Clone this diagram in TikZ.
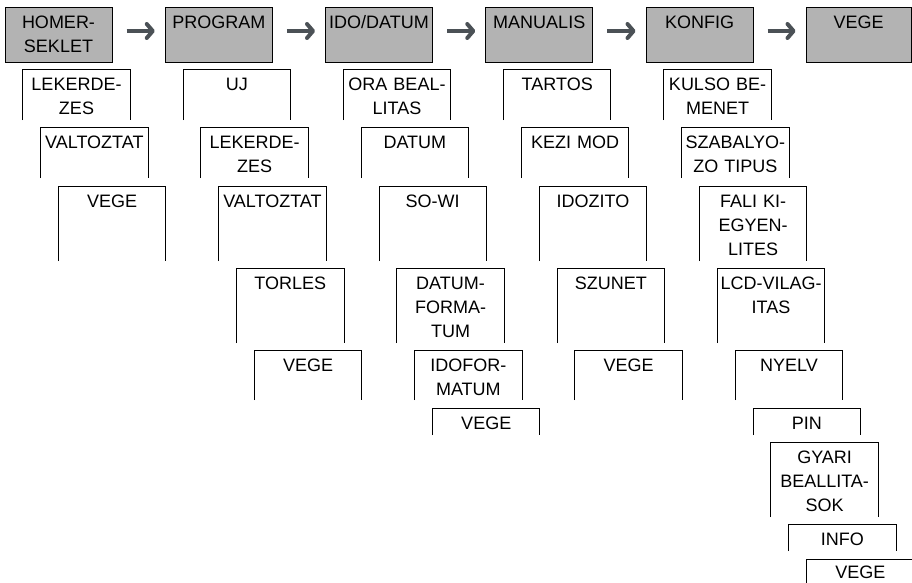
\documentclass[tikz,border=0pt]{standalone}
\usepackage{fontspec}
\setmainfont{Liberation Sans}
\usetikzlibrary{arrows.meta}
\definecolor{menugray}{HTML}{B3B3B3}
\definecolor{arrowgray}{HTML}{4B5156}
\tikzset{
  menu/.style={draw, line width=1pt, fill=menugray, anchor=north, text width=107pt, align=center,
    inner xsep=0pt, inner ysep=8pt, text height=13pt, text depth=26pt, font=\fontsize{18}{24}\selectfont},
  sub/.style={anchor=north, text width=107pt, align=center, inner xsep=0pt, inner ysep=8.5pt,
    text height=13pt, font=\fontsize{18}{24}\selectfont},
  nextarrow/.style={line width=4pt, arrowgray, -{Straight Barb[round,length=6pt,width=14pt]},
    shorten <=14pt, shorten >=10pt}
}
% open box: top and both sides, down to the row bottom
\newcommand\frameopen[2]{\draw[line width=1pt] (#1.north west |- #2) |- (#1.north east) -- (#1.north east |- #2);}
\begin{document}
\begin{tikzpicture}[x=1pt,y=-1pt]
\useasboundingbox (0,0) rectangle (912,582);
% row bottoms
\coordinate (bot1) at (0,120); \coordinate (bot2) at (0,178);
\coordinate (bot3) at (0,261); \coordinate (bot4) at (0,343);
\coordinate (bot5) at (0,400); \coordinate (bot6) at (0,435);
\coordinate (bot7) at (0,517); \coordinate (bot8) at (0,551);
\coordinate (bot9) at (0,590);

% main menu
\node[menu] (homer) at (58.5,7) {HOMER-\\SEKLET};
\node[menu] (program) at (218.75,7) {PROGRAM};
\node[menu] (idodatum) at (379,7) {IDO/DATUM};
\node[menu] (manualis) at (539.25,7) {MANUALIS};
\node[menu] (konfig) at (699.5,7) {KONFIG};
\node[menu, text width=105pt] (vege) at (858.5,7) {VEGE};

\draw[nextarrow] ([yshift=4pt]homer.east) -- ([yshift=4pt]program.west);
\draw[nextarrow] ([yshift=4pt]program.east) -- ([yshift=4pt]idodatum.west);
\draw[nextarrow] ([yshift=4pt]idodatum.east) -- ([yshift=4pt]manualis.west);
\draw[nextarrow] ([yshift=4pt]manualis.east) -- ([yshift=4pt]konfig.west);
\draw[nextarrow] ([yshift=4pt]konfig.east) -- ([yshift=4pt]vege.west);

% HOMERSEKLET
\node[sub] (hom1) at (76.5,69) {LEKERDE-\\ZES};
\node[sub] (hom2) at (94.35,127) {VALTOZTAT};
\node[sub] (hom3) at (112.2,186) {VEGE};

% PROGRAM
\node[sub] (prg1) at (236.75,69) {UJ};
\node[sub] (prg2) at (254.6,127) {LEKERDE-\\ZES};
\node[sub] (prg3) at (272.45,186) {VALTOZTAT};
\node[sub] (prg4) at (290.3,268) {TORLES};
\node[sub] (prg5) at (308.15,350) {VEGE};

% IDO/DATUM
\node[sub] (ido1) at (397,69) {ORA BEAL-\\LITAS};
\node[sub] (ido2) at (414.85,127) {DATUM};
\node[sub] (ido3) at (432.7,186) {SO-WI};
\node[sub] (ido4) at (450.55,268) {DATUM-\\FORMA-\\TUM};
\node[sub] (ido5) at (468.4,350) {IDOFOR-\\MATUM};
\node[sub] (ido6) at (486.25,408) {VEGE};

% MANUALIS
\node[sub] (man1) at (557.25,69) {TARTOS};
\node[sub] (man2) at (575.1,127) {KEZI MOD};
\node[sub] (man3) at (592.95,186) {IDOZITO};
\node[sub] (man4) at (610.8,268) {SZUNET};
\node[sub] (man5) at (628.65,350) {VEGE};

% KONFIG
\node[sub] (kon1) at (717.5,69) {KULSO BE-\\MENET};
\node[sub] (kon2) at (735.35,127) {SZABALYO-\\ZO TIPUS};
\node[sub] (kon3) at (753.2,186) {FALI KI-\\EGYEN-\\LITES};
\node[sub] (kon4) at (771.05,268) {LCD-VILAG-\\ITAS};
\node[sub] (kon5) at (788.9,350) {NYELV};
\node[sub] (kon6) at (806.75,408) {PIN};
\node[sub] (kon7) at (824.6,442) {GYARI\\BEALLITA-\\SOK};
\node[sub] (kon8) at (842.45,524) {INFO};
\node[sub, inner ysep=6.5pt] (kon9) at (860.3,559) {VEGE};

\foreach \col/\last in {hom/3,prg/5,ido/6,man/5,kon/9}{
  \foreach \r in {1,...,\last}{
    \frameopen{\col\r}{bot\r}
  }
}
\end{tikzpicture}
\end{document}
